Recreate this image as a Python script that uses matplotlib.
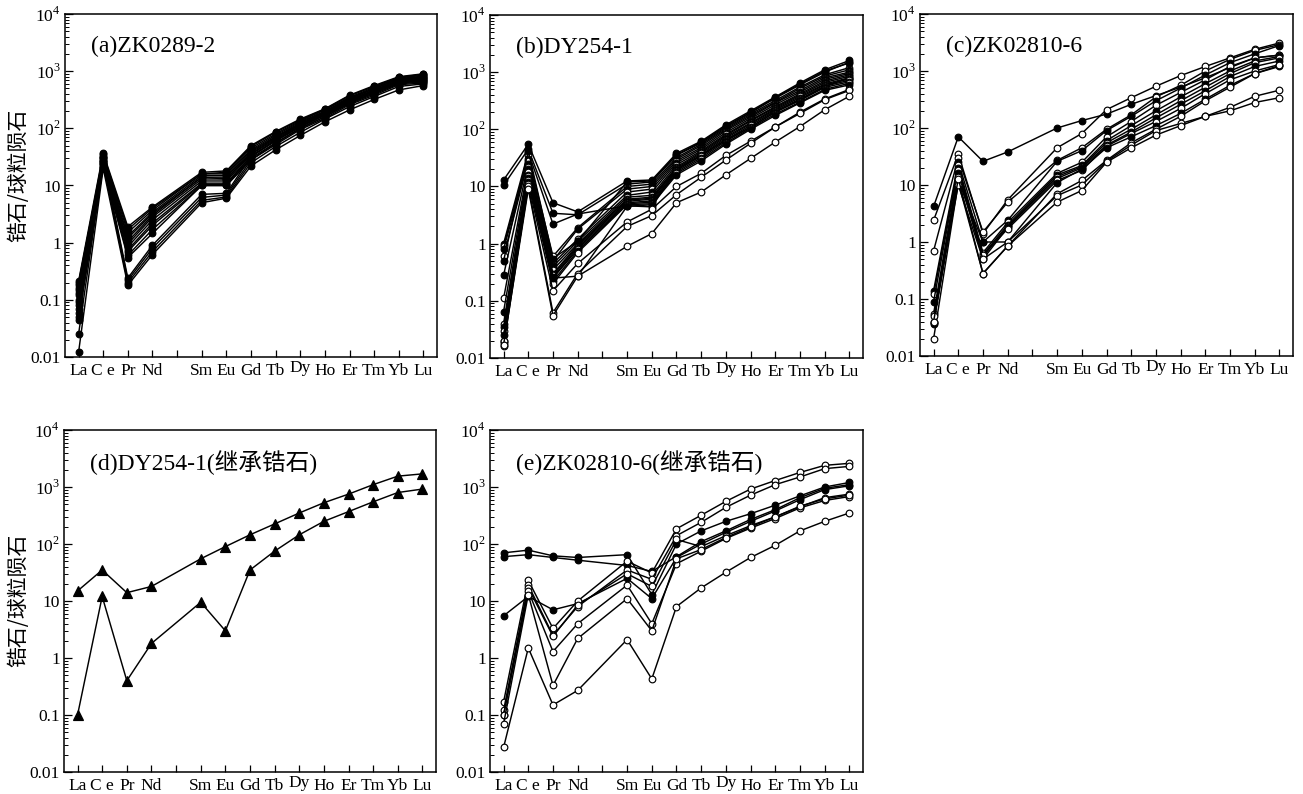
import numpy as np
import matplotlib
matplotlib.use('Agg')
import matplotlib.pyplot as plt
import matplotlib.transforms as mtransforms
from matplotlib.ticker import LogLocator, NullFormatter, FixedLocator

plt.rcParams['font.family'] = ['Liberation Serif', 'Noto Sans CJK SC']
plt.rcParams['mathtext.fontset'] = 'custom'
plt.rcParams['mathtext.rm'] = 'Liberation Serif'

# REE labels (Pm has a tick but no label / no data)
ree_labels = ['La', 'C e', 'Pr', 'Nd', '', 'Sm', 'Eu', 'Gd', 'Tb', 'Dy', 'Ho', 'Er', 'Tm', 'Yb', 'Lu']
ree_pos = [0, 1, 2, 3, 5, 6, 7, 8, 9, 10, 11, 12, 13, 14]   # positions used by data (no Pm)
ytick_vals = [0.01, 0.1, 1, 10, 100, 1000, 10000]
ytick_text = ['0.01', '0.1', '1', '10', r'$10^{2}$', r'$10^{3}$', r'$10^{4}$']

# (a) ZK0289-2 -- all filled circles
a_rows = [
    [0.21, 37, 1.9, 4.2, 17, 18, 50, 88, 145, 220, 380, 560, 800, 900],
    [0.18, 35, 1.7, 4.0, 16, 17, 48, 85, 140, 215, 370, 540, 780, 880],
    [0.15, 33, 1.5, 3.7, 16, 16, 45, 80, 135, 210, 350, 520, 760, 850],
    [0.13, 31, 1.3, 3.4, 15, 15, 42, 76, 130, 200, 340, 500, 740, 820],
    [0.12, 30, 1.2, 3.2, 14, 14, 40, 72, 125, 195, 330, 490, 720, 800],
    [0.10, 28, 1.05, 3.0, 14, 13, 38, 70, 120, 190, 320, 470, 700, 780],
    [0.09, 27, 0.95, 2.8, 13, 13, 36, 68, 118, 185, 310, 460, 680, 760],
    [0.08, 26, 0.85, 2.5, 12, 12, 35, 65, 115, 180, 300, 450, 660, 740],
    [0.07, 25, 0.75, 2.2, 11, 11, 33, 62, 110, 175, 290, 440, 640, 700],
    [0.06, 24, 0.70, 2.0, 10.5, 10.5, 32, 60, 105, 170, 280, 420, 620, 680],
    [0.05, 22, 0.60, 1.7, 10, 10, 30, 56, 100, 160, 270, 400, 600, 650],
    [0.045, 21, 0.55, 1.45, 10, 10, 28, 52, 95, 150, 260, 380, 580, 620],
    [0.20, 30, 0.24, 0.9, 7, 7.3, 32, 62, 110, 175, 300, 450, 650, 720],
    [0.16, 27, 0.22, 0.8, 6.2, 6.8, 28, 55, 100, 160, 280, 420, 620, 680],
    [0.025, 24, 0.20, 0.7, 5.5, 6.3, 25, 48, 85, 145, 240, 360, 540, 600],
    [0.012, 20, 0.18, 0.62, 5, 6, 22, 42, 75, 130, 210, 320, 470, 560],
]
a_filled = [True] * len(a_rows)

# (b) DY254-1
b_rows = [
    [13, 55, 5.2, 3.6, 12.5, 13, 38, 62, 120, 210, 370, 650, 1100, 1600],
    [10.5, 45, 3.4, 3.2, 11, 12, 35, 58, 110, 195, 350, 600, 1000, 1500],
    [1.0, 40, 2.2, 3.3, 4.6, 4.4, 20, 35, 65, 110, 200, 330, 560, 800],
    [0.9, 35, 0.6, 1.9, 10, 11, 32, 55, 105, 185, 320, 550, 900, 1200],
    [0.8, 30, 0.5, 1.8, 9, 10, 30, 52, 100, 175, 300, 520, 850, 1100],
    [0.6, 28, 0.45, 1.2, 8, 9, 28, 48, 95, 165, 290, 480, 800, 1000],
    [0.28, 25, 0.4, 1.1, 7, 8, 26, 45, 88, 155, 270, 450, 750, 950],
    [0.11, 22, 0.35, 1.0, 6.5, 7, 24, 42, 82, 145, 250, 420, 700, 900],
    [0.065, 20, 0.3, 0.95, 6, 6.5, 22, 40, 78, 140, 240, 400, 660, 850],
    [0.04, 18, 0.28, 0.9, 5.8, 6.2, 21, 38, 74, 130, 230, 380, 620, 800],
    [0.035, 16, 0.26, 0.85, 5.5, 6, 20, 36, 70, 125, 220, 360, 600, 760],
    [0.03, 15, 0.25, 0.8, 5.2, 5.6, 19, 34, 66, 118, 210, 340, 570, 720],
    [0.025, 14, 0.22, 0.75, 5, 5.3, 18, 32, 62, 110, 200, 320, 540, 680],
    [0.02, 13, 0.2, 0.7, 4.8, 5, 17, 30, 58, 105, 185, 300, 500, 640],
    [0.018, 12, 0.25, 0.27, 4.5, 4.8, 16, 28, 55, 100, 175, 290, 480, 600],
    [0.016, 11, 0.15, 0.45, 2.4, 4.0, 10, 17, 35, 62, 110, 200, 340, 500],
    [0.02, 10, 0.062, 0.3, 2.0, 3.1, 7.2, 14.5, 29, 57, 110, 190, 330, 480],
    [0.017, 9, 0.055, 0.27, 0.9, 1.5, 5.2, 8, 16, 31, 60, 112, 220, 380],
    [0.5, 42, 0.55, 1.1, 12, 12.5, 36, 60, 115, 200, 360, 620, 1050, 1450],
]
b_filled = [True, True, True, False, True, False, True, False, True, False,
            True, False, True, False, True, False, False, False, True]

# (c) ZK02810-6
c_rows = [
    [4.2, 70, 26, 38, 100, 135, 175, 260, 370, 520, 760, 1150, 1700, 1900],
    [2.4, 35, 1.4, 5.5, 45, 80, 210, 340, 540, 830, 1200, 1700, 2400, 3100],
    [0.7, 30, 1.5, 5.0, 27, 45, 95, 170, 350, 560, 1000, 1600, 2300, 2900],
    [0.14, 25, 1.0, 2.4, 26, 40, 90, 160, 300, 500, 850, 1400, 2000, 2800],
    [0.12, 22, 0.65, 2.2, 16, 25, 70, 130, 250, 420, 700, 1200, 1700, 1900],
    [0.09, 20, 0.6, 2.0, 15, 22, 60, 110, 200, 350, 600, 1000, 1500, 1800],
    [0.055, 18, 0.55, 1.9, 14, 21, 55, 95, 170, 300, 520, 900, 1400, 1700],
    [0.04, 16, 0.5, 1.8, 13, 20, 50, 85, 150, 260, 450, 800, 1200, 1500],
    [0.038, 14, 0.6, 1.7, 12, 18, 48, 80, 130, 220, 400, 700, 1000, 1300],
    [0.037, 12, 1.0, 1.0, 11, 19, 45, 70, 110, 180, 320, 560, 900, 1200],
    [0.02, 11, 0.28, 0.85, 7, 12, 27, 55, 95, 160, 300, 520, 900, 1250],
    [0.05, 10, 0.5, 1.0, 6.5, 10, 26, 50, 90, 120, 160, 230, 360, 460],
    [0.04, 13, 0.28, 0.85, 5, 8, 25, 45, 75, 110, 160, 200, 280, 340],
]
c_filled = [True, False, False, True, False, True, False, True, False, True,
            False, False, False]

# (d) DY254-1 inherited zircon -- triangles
d_rows = [
    [15, 35, 14, 18, 55, 90, 145, 225, 350, 530, 750, 1100, 1550, 1700],
    [0.1, 12, 0.4, 1.8, 9.5, 3, 35, 75, 145, 250, 370, 550, 800, 920],
]

# (e) ZK02810-6 inherited zircon
e_rows = [
    [70, 78, 62, 58, 65, 13, 100, 170, 250, 340, 480, 700, 1000, 1200],
    [60, 65, 58, 52, 42, 33, 60, 110, 170, 270, 400, 650, 950, 1100],
    [5.5, 12, 7, 9, 25, 11, 58, 100, 160, 250, 380, 600, 900, 1050],
    [0.17, 23, 3.3, 10, 50, 31, 185, 320, 560, 920, 1300, 1800, 2400, 2600],
    [0.12, 19, 2.5, 8, 35, 24, 140, 240, 440, 720, 1100, 1500, 2100, 2300],
    [0.1, 17, 2.4, 8.5, 30, 18, 120, 90, 140, 210, 300, 450, 650, 750],
    [0.1, 15, 1.3, 4, 19, 4, 45, 75, 125, 190, 280, 430, 580, 680],
    [0.07, 13, 0.33, 2.2, 11, 3, 55, 80, 130, 200, 300, 460, 620, 720],
    [0.027, 1.5, 0.15, 0.27, 2.1, 0.43, 8, 17, 32, 58, 95, 170, 250, 350],
]
e_filled = [True, True, True, False, False, False, False, False, False]

fig = plt.figure(figsize=(13.03, 7.94), dpi=100)
W, H = 1303.0, 794.0

def make_ax(left, right, top, bottom):
    return fig.add_axes([left / W, 1 - bottom / H, (right - left) / W, (bottom - top) / H])

def style_ax(ax, title):
    ax.set_yscale('log')
    ax.set_ylim(0.01, 10000)
    ax.set_xlim(-0.55, 14.55)
    ax.xaxis.set_major_locator(FixedLocator(range(15)))
    ax.set_xticklabels(ree_labels, fontsize=12.5)
    ax.yaxis.set_major_locator(FixedLocator(ytick_vals))
    ax.set_yticklabels(ytick_text, fontsize=12.5)
    ax.yaxis.set_minor_locator(LogLocator(base=10, subs=np.arange(2, 10)))
    ax.yaxis.set_minor_formatter(NullFormatter())
    ax.tick_params(axis='x', direction='in', length=5, width=0.9, top=False, pad=4)
    ax.tick_params(axis='y', which='major', direction='in', length=6, width=0.9, right=False, pad=3)
    ax.tick_params(axis='y', which='minor', direction='in', length=3, width=0.7, right=False)
    for s in ax.spines.values():
        s.set_linewidth(1.1)
    # "Dy" sits a little higher than the other labels
    up = mtransforms.ScaledTranslation(0, 3 / 100, fig.dpi_scale_trans)
    for lab in ax.get_xticklabels():
        if lab.get_text() == 'Dy':
            lab.set_transform(lab.get_transform() + up)
    ax.text(0.07, 0.905, title, transform=ax.transAxes, fontsize=17,
            va='center', ha='left')

def draw(ax, rows, filled, marker='o', ms=4.8):
    for vals, f in zip(rows, filled):
        ax.plot(ree_pos, vals, color='black', lw=1.05, marker=marker, ms=ms,
                mfc='black' if f else 'white', mec='black', mew=0.85)

ax_a = make_ax(65, 437, 14, 357)
draw(ax_a, a_rows, a_filled)
style_ax(ax_a, '(a)ZK0289-2')

ax_b = make_ax(490, 863, 15, 358)
draw(ax_b, b_rows, b_filled)
style_ax(ax_b, '(b)DY254-1')

ax_c = make_ax(920, 1293, 14, 356)
draw(ax_c, c_rows, c_filled)
style_ax(ax_c, '(c)ZK02810-6')

ax_d = make_ax(64, 436, 430, 772)
draw(ax_d, d_rows, [True, True], marker='^', ms=6.5)
style_ax(ax_d, '(d)DY254-1(继承锆石)')

ax_e = make_ax(490, 863, 430, 772)
draw(ax_e, e_rows, e_filled)
style_ax(ax_e, '(e)ZK02810-6(继承锆石)')

# y labels
fig.text(18 / W, 1 - 175 / H, '锆石/球粒陨石', rotation=90, va='center', ha='center',
         fontsize=15, family=['Noto Sans CJK SC'])
fig.text(18 / W, 1 - 600 / H, '锆石/球粒陨石', rotation=90, va='center', ha='center',
         fontsize=15, family=['Noto Sans CJK SC'])

fig.savefig('out.png', dpi=100)
